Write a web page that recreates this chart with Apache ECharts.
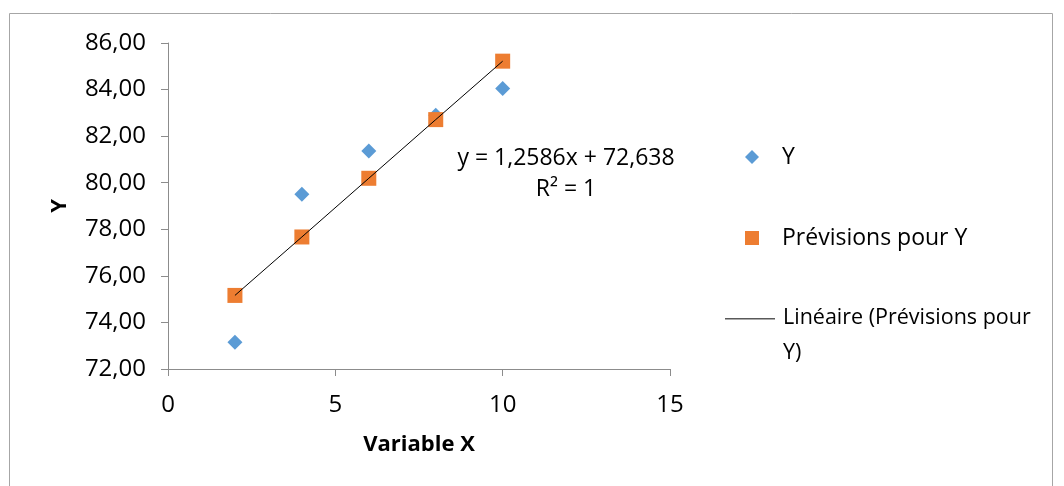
<!DOCTYPE html>
<html>
<head>
<meta charset="utf-8">
<script src="https://cdn.jsdelivr.net/npm/echarts@6/dist/echarts.min.js"></script>
<style>
  html, body { margin: 0; padding: 0; background: #fff; }
  #chart { width: 1064px; height: 486px; }
</style>
</head>
<body>
<div id="chart"></div>
<script>
// Observed data and fitted predictions
const xValues = [2, 4, 6, 8, 10];
const yObserved = [73.15, 79.50, 81.36, 82.90, 84.05];
const yPredicted = [75.16, 77.67, 80.19, 82.71, 85.22];
const slope = 1.2586;
const intercept = 72.638;
const rSquared = 1;

const seriesNames = ['Y', 'Prévisions pour Y', 'Linéaire (Prévisions pour\nY)'];
const xAxisTitle = 'Variable X';
const yAxisTitle = 'Y';

const FONT = '"Open Sans", "Noto Sans", sans-serif';
const comma = (v, d) => v.toFixed(d).replace('.', ',');

const pairs = ys => xValues.map((x, i) => [x, ys[i]]);

// Legend icon for the trend line: a thin bar along the top edge, with a
// near-zero-width sliver at the bottom so the icon box is tall enough for
// the first text line to sit level with the bar.
const trendIcon = 'path://M0,0L50,0L50,1.5L0,1.5Z M0,34.99L0.01,34.99L0.01,35L0,35Z';

const chart = echarts.init(document.getElementById('chart'), null, { renderer: 'canvas' });

chart.setOption({
  backgroundColor: '#ffffff',
  animation: false,
  grid: { left: 168, right: 394, top: 43, bottom: 117, containLabel: false },
  xAxis: {
    type: 'value',
    min: 0, max: 15, interval: 5,
    name: xAxisTitle,
    nameLocation: 'middle',
    nameGap: 65,
    nameTextStyle: { fontFamily: FONT, fontSize: 22, fontWeight: 'bold', color: '#000' },
    axisLine: { lineStyle: { color: '#8c8c8c', width: 1 } },
    axisTick: { show: true, length: 7, lineStyle: { color: '#8c8c8c' } },
    axisLabel: { fontFamily: FONT, fontSize: 24, color: '#000', margin: 24 },
    splitLine: { show: false }
  },
  yAxis: {
    type: 'value',
    min: 72, max: 86, interval: 2,
    name: yAxisTitle,
    nameLocation: 'middle',
    nameGap: 97,
    nameRotate: 90,
    nameTextStyle: { fontFamily: FONT, fontSize: 22, fontWeight: 'bold', color: '#000' },
    axisLine: { show: true, lineStyle: { color: '#8c8c8c', width: 1 } },
    axisTick: { show: true, length: 7, lineStyle: { color: '#8c8c8c' } },
    axisLabel: { fontFamily: FONT, fontSize: 24, color: '#000', margin: 22,
                 formatter: v => comma(v, 2) },
    splitLine: { show: false }
  },
  legend: [
    {
      orient: 'vertical',
      left: 745, top: 145,
      padding: 0,
      itemWidth: 14, itemHeight: 14,
      itemGap: 57,
      data: [
        { name: seriesNames[0], icon: 'diamond' },
        { name: seriesNames[1], icon: 'rect' }
      ],
      textStyle: { fontFamily: FONT, fontSize: 23, lineHeight: 24, color: '#000',
                   padding: [0, 0, 0, 18] }
    },
    {
      orient: 'vertical',
      left: 725, top: 300.5,
      padding: 0,
      itemWidth: 50, itemHeight: 35,
      data: [{ name: seriesNames[2], icon: trendIcon, itemStyle: { color: '#595959' } }],
      textStyle: { fontFamily: FONT, fontSize: 21.5, color: '#000', lineHeight: 35,
                   padding: [0, 0, 0, 3] }
    }
  ],
  series: [
    {
      name: seriesNames[0],
      type: 'scatter',
      symbol: 'diamond',
      symbolSize: 15,
      itemStyle: { color: '#5B9BD5', opacity: 1 },
      data: pairs(yObserved),
      z: 2
    },
    {
      name: seriesNames[1],
      type: 'scatter',
      symbol: 'rect',
      symbolSize: 15,
      itemStyle: { color: '#ED7D31', opacity: 1 },
      data: pairs(yPredicted),
      z: 3
    },
    {
      name: seriesNames[2],
      type: 'line',
      symbol: 'none',
      symbolKeepAspect: false,
      lineStyle: { color: '#000', width: 1 },
      itemStyle: { color: '#595959' },
      data: pairs(yPredicted),
      z: 4
    }
  ],
  graphic: [
    {
      type: 'rect',
      shape: { x: 9.5, y: 13.5, width: 1043, height: 500 },
      style: { fill: 'none', stroke: '#a6a6a6', lineWidth: 1 },
      silent: true
    },
    {
      type: 'text',
      x: 566, y: 173.5,
      style: {
        text: 'y = ' + comma(slope, 4) + 'x + ' + comma(intercept, 3) + '\nR² = ' + rSquared,
        fontFamily: FONT, fontSize: 23, fill: '#000',
        align: 'center', verticalAlign: 'middle', lineHeight: 31
      },
      silent: true
    }
  ]
});
</script>
</body>
</html>
